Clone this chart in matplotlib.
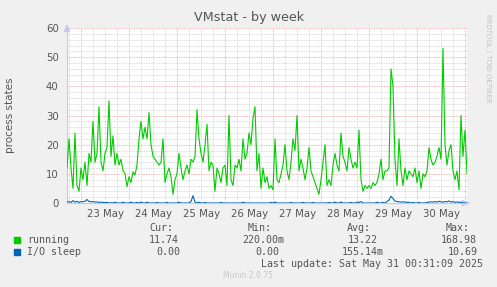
import matplotlib
matplotlib.use("Agg")
import matplotlib.pyplot as plt
import matplotlib.dates as mdates
from matplotlib.ticker import MultipleLocator, FuncFormatter
import numpy as np
import pandas as pd

# ---------------- data ----------------
start_time = "2025-05-22 16:54"
end_time = "2025-05-31 00:54"

running = [
    12, 22, 12, 5, 24, 6, 4, 12, 8, 14,
    6, 17, 14, 28, 14, 17, 33, 14, 11, 17,
    19, 35, 16, 23, 13, 17, 13, 15, 11, 10,
    5.6, 9, 7, 10.7, 9.6, 13, 22, 28, 22, 26,
    22, 31, 20, 16, 15, 14, 13, 14, 22, 7,
    10, 12, 9, 3, 8, 10, 17, 12, 8, 11,
    13, 10, 15, 14, 16, 32, 22, 17, 14, 20,
    27, 11, 14, 13, 4, 12, 10, 7, 12, 13,
    6, 30, 8, 6, 13, 12, 15, 11, 22, 15,
    17, 24, 20, 29, 33, 11, 17, 5, 12, 7,
    9, 5, 6, 4.5, 22, 8, 7, 10, 13, 20,
    11, 8, 14, 22, 18, 30, 11, 15, 12, 8,
    12, 19, 11, 9, 7, 5, 3, 8, 14, 20,
    6, 8, 6, 13, 17, 13, 11, 24, 16, 14,
    11, 19, 15, 12, 14, 12, 25, 8, 4, 6,
    5, 6, 5, 7, 6, 7, 10, 15, 8, 11,
    11, 12, 46, 40, 15, 6, 22, 11, 6, 12,
    8, 11, 10, 9, 12, 7, 11, 5, 10, 9,
    11, 19, 15, 13, 14, 16, 19, 15, 53, 20,
    13, 18, 20, 11, 8, 11, 4.5, 30, 16, 25,
    10,
]

io_sleep = [
    0.3, 0.5, 0.2, 0.8, 0.3, 0.6, 0.2, 0.5, 0.4, 0.6,
    1.2, 0.5, 0.4, 0.5, 0.3, 0.4, 0.2, 0.3, 0.2, 0.1,
    0.2, 0, 0.1, 0, 0.3, 0, 0, 0, 0.3, 0,
    0, 0, 0.3, 0, 0, 0.2, 0, 0.3, 0, 0,
    0.3, 0, 0, 0, 0, 0.2, 0, 0, 0, 0,
    0.2, 0, 0, 0, 0, 0, 0.3, 0, 0, 0,
    0, 0, 0.5, 2.5, 0.3, 0, 0.3, 0, 0, 0.2,
    0, 0, 0, 0, 0, 0, 0, 0.2, 0, 0,
    0, 0, 0, 0, 0, 0, 0, 0, 0.3, 0,
    0, 0, 0, 0, 0, 0, 0, 0, 0, 0,
    0, 0, 0.2, 0, 0.3, 0, 0, 0, 0, 0,
    0, 0, 0.2, 0, 0, 0, 0, 0, 0.2, 0,
    0, 0, 0, 0.2, 0, 0, 0, 0, 0, 0,
    0, 0.2, 0, 0, 0.3, 0, 0, 0.4, 0, 0,
    0, 0, 0.2, 0, 0, 0.3, 0.2, 0.5, 0, 0,
    0, 0, 0, 0, 0, 0.3, 0, 0, 0.2, 0,
    0.5, 1.0, 2.3, 1.5, 0.7, 0.5, 0.4, 0.3, 0.4, 0.3,
    0.2, 0.3, 0, 0.2, 0, 0, 0.2, 0, 0, 0,
    0.2, 0.3, 0.4, 0.3, 0.5, 0.3, 0.6, 0.4, 0.3, 0.5,
    0.4, 0.7, 0.3, 0.5, 0.2, 0.4, 0.2, 0.3, 0, 0,
    0,
]

series_names = ["running", "I/O sleep"]
series_colors = ["#00CC00", "#0066B3"]
stat_headers = ["Cur:", "Min:", "Avg:", "Max:"]
stats_running = ["11.74", "220.00m", "13.22", "168.98"]
stats_io = ["0.00", "0.00", "155.14m", "10.69"]
title = "VMstat - by week"
ylabel = "process states"
last_update = "Last update: Sat May 31 00:31:09 2025"
footer = "Munin 2.0.75"
side_text = "RRDTOOL / TOBI OETIKER"

# ---------------- figure ----------------
W, H = 497, 287
fig = plt.figure(figsize=(W / 100, H / 100), dpi=100, facecolor="#F0F0F0")
ax = fig.add_axes([67 / W, 1 - 203 / H, 400 / W, 175 / H])
ax.set_facecolor("white")

times = pd.date_range(start=start_time, periods=len(running), freq="h")
ax.plot(times, running, color=series_colors[0], lw=0.8, zorder=3)
ax.plot(times, io_sleep, color=series_colors[1], lw=0.8, zorder=4)

ax.set_xlim(pd.Timestamp(start_time), pd.Timestamp(end_time))
ax.set_ylim(0, 60)

# grid
ax.yaxis.set_major_locator(MultipleLocator(10))
ax.yaxis.set_minor_locator(MultipleLocator(2))
ax.xaxis.set_major_locator(mdates.DayLocator())
ax.xaxis.set_minor_locator(mdates.HourLocator(byhour=[6, 12, 18]))
ax.xaxis.set_major_formatter(FuncFormatter(lambda x, p: ""))


def minor_fmt(x, p):
    d = mdates.num2date(x)
    return d.strftime("%d May") if d.hour == 12 else ""


ax.xaxis.set_minor_formatter(FuncFormatter(minor_fmt))
ax.grid(which="minor", color="#cfcfcf", linestyle=(0, (1, 1)), lw=0.6, zorder=1)
ax.grid(which="major", color="#f0a0a0", linestyle=(0, (1, 1)), lw=0.6, zorder=2)

ax.tick_params(which="both", length=0, colors="#555555", labelsize=7.3)
ax.tick_params(axis="y", pad=6)
ax.tick_params(axis="x", which="minor", pad=4)

for s in ["top", "right"]:
    ax.spines[s].set_visible(False)
for s in ["left", "bottom"]:
    ax.spines[s].set_color("#c8c8ee")
    ax.spines[s].set_linewidth(0.8)

# arrows on axes
ax.annotate("", xy=(0, 1.04), xytext=(0, 0.99), xycoords="axes fraction",
            arrowprops=dict(arrowstyle="-|>,head_width=0.18,head_length=0.45",
                            color="#c8c8ee", lw=0.8), annotation_clip=False)
ax.annotate("", xy=(1.015, 0), xytext=(0.995, 0), xycoords="axes fraction",
            arrowprops=dict(arrowstyle="-|>,head_width=0.18,head_length=0.45",
                            color="#c8c8ee", lw=0.8), annotation_clip=False)

# titles
fig.text(249 / W, 1 - 18 / H, title, ha="center", va="center",
         fontsize=9.2, color="#555555")
fig.text(10 / W, 1 - 115 / H, ylabel, ha="center", va="center",
         rotation=90, fontsize=7.5, color="#555555")
fig.text(488 / W, 1 - 58 / H, side_text, ha="center", va="center",
         rotation=270, fontsize=5, color="#c0c0c0")

# legend / stats
mono = dict(family="DejaVu Sans Mono", fontsize=7.2, color="#555555", va="center")
header_right = [173, 272, 371, 470]
val_right = [179, 284, 378, 477]
for h, xr in zip(stat_headers, header_right):
    fig.text(xr / W, 1 - 228 / H, h, ha="right", **mono)

rows_y = [240, 252]
io_left = [156, 255, 342, 448]
run_left = [149, 242, 348, 441]
for name, color, y, vals, lefts in zip(series_names, series_colors, rows_y,
                                        [stats_running, stats_io],
                                        [run_left, io_left]):
    fig.patches.append(plt.Rectangle((14 / W, 1 - (y + 3) / H), 6 / W, 6 / H,
                                     transform=fig.transFigure, color=color,
                                     figure=fig))
    fig.text(27 / W, 1 - y / H, name, ha="left", **mono)
    for v, xl in zip(vals, lefts):
        fig.text(xl / W, 1 - y / H, v, ha="left", **mono)

fig.text(483 / W, 1 - 264 / H, last_update, ha="right", **mono)
fig.text(248 / W, 1 - 276 / H, footer, ha="center", va="center",
         fontsize=5.5, color="#c8c8c8")

fig.savefig("out.png", dpi=100, facecolor=fig.get_facecolor())
